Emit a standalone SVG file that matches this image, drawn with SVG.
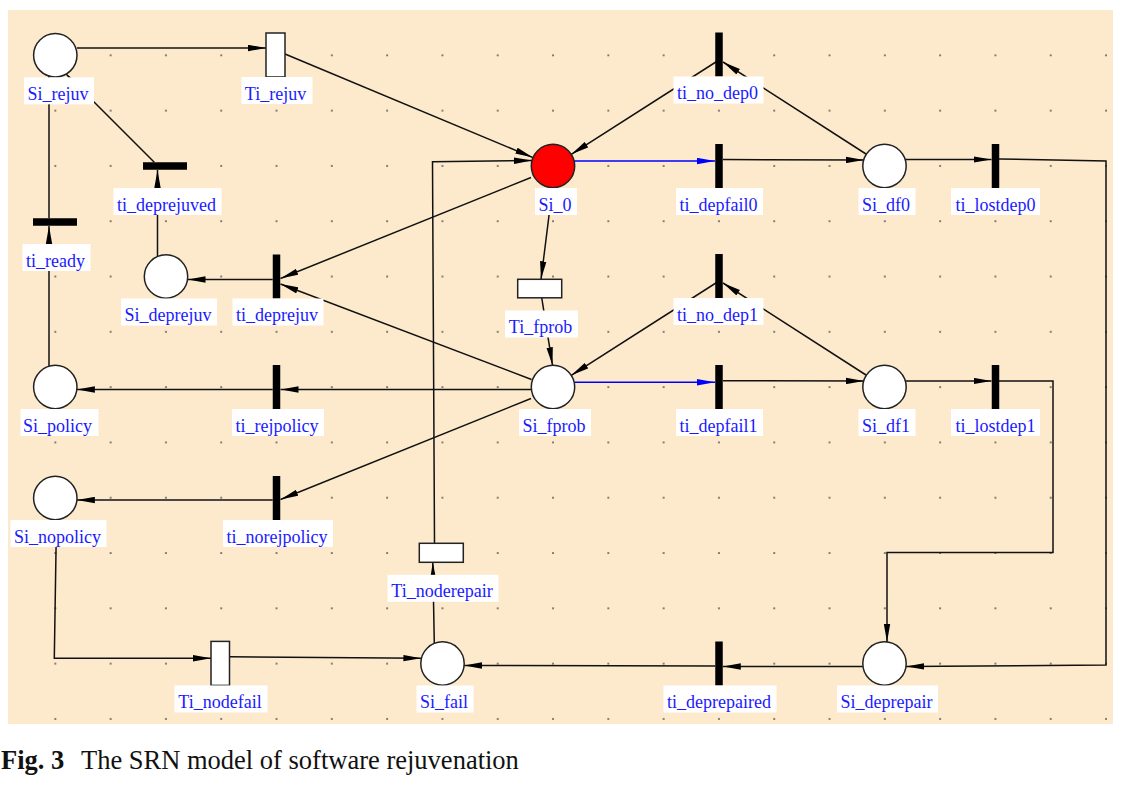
<svg xmlns="http://www.w3.org/2000/svg" width="1133" height="793" viewBox="0 0 1133 793">
<style>
.p{fill:#fff;stroke:#222;stroke-width:1.5}
.r{fill:#ff0000;stroke:#222;stroke-width:1.5}
.t{fill:#000}
.tt{fill:#fff;stroke:#222;stroke-width:1.5}
.lb{fill:#fff}
.lt{font-family:"Liberation Serif","Times New Roman",serif;font-size:18px;fill:#1a1aff;text-anchor:middle}
.c{fill:none;stroke:#111;stroke-width:1.5;marker-end:url(#a)}
.cb{fill:none;stroke:#0000ff;stroke-width:1.5;marker-end:url(#ab)}
.cn{fill:none;stroke:#111;stroke-width:1.5}
.cap{font-family:"Liberation Serif","Times New Roman",serif;font-size:26.5px;fill:#111}
</style>
<defs>
<marker id="a" markerUnits="userSpaceOnUse" markerWidth="18" markerHeight="7" refX="18" refY="3.5" orient="auto">
<path d="M0,0.3 L18,3.5 L0,6.7 Z" fill="#000"/>
</marker>
<marker id="ab" markerUnits="userSpaceOnUse" markerWidth="18" markerHeight="7" refX="18" refY="3.5" orient="auto">
<path d="M0,0.3 L18,3.5 L0,6.7 Z" fill="#0000ff"/>
</marker>
<pattern id="dots" patternUnits="userSpaceOnUse" x="27.65" y="27.65" width="55.3" height="55.3">
<rect x="26.9" y="26.9" width="1.6" height="1.6" fill="#444"/>
</pattern>
</defs>
<rect x="0" y="0" width="1133" height="793" fill="#fff"/>
<rect x="8" y="10" width="1105" height="714" fill="#fdeacd"/>
<rect x="8" y="10" width="1105" height="714" fill="url(#dots)"/>

<g id="connectors">
<path class="c" d="M77,48 L266,48"/>
<path class="c" d="M285,54 L533,157.6"/>
<path class="c" d="M719,60 L571.3,154.3"/>
<path class="c" d="M866,154 L723,62"/>
<path class="cb" d="M574,161 L715,161"/>
<path class="c" d="M723,159.5 L864,160"/>
<path class="c" d="M905.5,159.5 L991.5,159.5"/>
<path class="c" d="M999,159 L1106,161 L1106,665 L906,666.5"/>
<path class="c" d="M552.5,187.7 L541,279.3"/>
<path class="c" d="M541.7,297.7 L552.5,365.3"/>
<path class="c" d="M719,281 L571.3,375.3"/>
<path class="c" d="M866,375 L723,283"/>
<path class="cb" d="M574.5,382.3 L715,382.3"/>
<path class="c" d="M723,380.7 L864,381"/>
<path class="c" d="M905.5,381 L991.5,381"/>
<path class="c" d="M999,381 L1053,381 L1053,552.5 L887,552.5 L887,642"/>
<path class="c" d="M531.5,379.5 L280.5,284"/>
<path class="c" d="M531,177.5 L280.5,278.5"/>
<path class="c" d="M272.7,279.5 L187.5,279.5"/>
<path class="c" d="M157.5,256.5 L157.5,170"/>
<path class="c" d="M154.3,162.3 L66.3,74.3"/>
<path class="c" d="M49,366.2 L49,226"/>
<path class="c" d="M49,218.2 L49,76.1"/>
<path class="c" d="M531.5,389.5 L280.5,389.5"/>
<path class="c" d="M272.7,389.5 L76.9,389.5"/>
<path class="c" d="M531,398.5 L280.5,499.5"/>
<path class="c" d="M272.7,500 L76.9,500"/>
<path class="c" d="M56.5,519.7 L54.3,658.3 L211,658.3"/>
<path class="c" d="M229.3,656.8 L421.4,658.3"/>
<path class="c" d="M434.3,643.4 L432.8,562.3"/>
<path class="c" d="M434.5,543.3 L432.5,161.7 L532,160.5"/>
<path class="c" d="M862.8,666.5 L722.8,666.5"/>
<path class="c" d="M715.2,666 L464.1,665.5"/>
</g>

<g id="Si_rejuv"><circle class="p" cx="55.3" cy="55.3" r="21.7"/><rect class="lb" x="24" y="77.3" width="70" height="27"/><text class="lt" x="58" y="99.8">Si_rejuv</text></g>
<g id="Ti_rejuv"><rect class="tt" x="266" y="33" width="19" height="44"/><rect class="lb" x="241.5" y="77" width="71" height="27"/><text class="lt" x="275.5" y="99.5">Ti_rejuv</text></g>
<g id="ti_deprejuved"><rect class="t" x="143" y="162.25" width="44" height="7.5"/><rect class="lb" x="113.5" y="188" width="108" height="27"/><text class="lt" x="166.5" y="210.5">ti_deprejuved</text></g>
<g id="ti_ready"><rect class="t" x="33" y="218.25" width="44" height="7.5"/><rect class="lb" x="22.5" y="244" width="68" height="27"/><text class="lt" x="55.5" y="266.5">ti_ready</text></g>
<g id="Si_deprejuv"><circle class="p" cx="166" cy="276.5" r="21.7"/><rect class="lb" x="121" y="298.5" width="96" height="27"/><text class="lt" x="168" y="321">Si_deprejuv</text></g>
<g id="ti_deprejuv"><rect class="t" x="272.75" y="254.5" width="7.5" height="44"/><rect class="lb" x="232.5" y="298.5" width="91" height="27"/><text class="lt" x="277" y="321">ti_deprejuv</text></g>
<g id="Si_policy"><circle class="p" cx="55.3" cy="387" r="21.7"/><rect class="lb" x="20.5" y="409" width="78" height="27"/><text class="lt" x="57.5" y="431.5">Si_policy</text></g>
<g id="ti_rejpolicy"><rect class="t" x="272.75" y="365" width="7.5" height="44"/><rect class="lb" x="232" y="409" width="92" height="27"/><text class="lt" x="277" y="431.5">ti_rejpolicy</text></g>
<g id="Si_nopolicy"><circle class="p" cx="55.3" cy="498" r="21.7"/><rect class="lb" x="10.5" y="520" width="96" height="27"/><text class="lt" x="57.5" y="542.5">Si_nopolicy</text></g>
<g id="ti_norejpolicy"><rect class="t" x="272.75" y="476" width="7.5" height="44"/><rect class="lb" x="223" y="520" width="110" height="27"/><text class="lt" x="277" y="542.5">ti_norejpolicy</text></g>
<g id="Ti_nodefail"><rect class="tt" x="211" y="641.4" width="18.5" height="44"/><rect class="lb" x="174.5" y="685.4" width="93" height="27"/><text class="lt" x="220" y="707.9">Ti_nodefail</text></g>
<g id="Si_fail"><circle class="p" cx="442.5" cy="663.5" r="21.7"/><rect class="lb" x="416.5" y="685.5" width="57" height="27"/><text class="lt" x="444" y="708">Si_fail</text></g>
<g id="Ti_noderepair"><rect class="tt" x="419.3" y="543.3" width="44" height="19"/><rect class="lb" x="387.5" y="574.8" width="111" height="27"/><text class="lt" x="442" y="597.3">Ti_noderepair</text></g>
<g id="ti_deprepaired"><rect class="t" x="715.25" y="641.5" width="7.5" height="44"/><rect class="lb" x="663.5" y="685.5" width="113" height="27"/><text class="lt" x="719" y="708">ti_deprepaired</text></g>
<g id="Si_deprepair"><circle class="p" cx="884.5" cy="663.5" r="21.7"/><rect class="lb" x="837" y="685.5" width="101" height="27"/><text class="lt" x="886.5" y="708">Si_deprepair</text></g>
<g id="Si_0"><circle class="r" cx="553" cy="166" r="21.7"/><rect class="lb" x="535" y="188" width="42" height="27"/><text class="lt" x="555" y="210.5">Si_0</text></g>
<g id="Ti_fprob"><rect class="tt" x="517.7" y="279.3" width="44" height="18.5"/><rect class="lb" x="505" y="310.5" width="73" height="27"/><text class="lt" x="540.5" y="333">Ti_fprob</text></g>
<g id="Si_fprob"><circle class="p" cx="553" cy="387" r="21.7"/><rect class="lb" x="519" y="409" width="72" height="27"/><text class="lt" x="554" y="431.5">Si_fprob</text></g>
<g id="ti_no_dep0"><rect class="t" x="715.25" y="32.5" width="7.5" height="44"/><rect class="lb" x="673.5" y="76.5" width="90" height="27"/><text class="lt" x="717.5" y="99">ti_no_dep0</text></g>
<g id="ti_depfail0"><rect class="t" x="715.25" y="144" width="7.5" height="44"/><rect class="lb" x="676" y="188" width="87" height="27"/><text class="lt" x="718.5" y="210.5">ti_depfail0</text></g>
<g id="Si_df0"><circle class="p" cx="884.5" cy="166" r="21.7"/><rect class="lb" x="858.5" y="188" width="57" height="27"/><text class="lt" x="886" y="210.5">Si_df0</text></g>
<g id="ti_lostdep0"><rect class="t" x="991.75" y="144" width="7.5" height="44"/><rect class="lb" x="951" y="188" width="89" height="27"/><text class="lt" x="995.5" y="210.5">ti_lostdep0</text></g>
<g id="ti_no_dep1"><rect class="t" x="715.25" y="254" width="7.5" height="44"/><rect class="lb" x="673.5" y="298" width="90" height="27"/><text class="lt" x="717.5" y="320.5">ti_no_dep1</text></g>
<g id="ti_depfail1"><rect class="t" x="715.25" y="365" width="7.5" height="44"/><rect class="lb" x="676" y="409" width="87" height="27"/><text class="lt" x="718.5" y="431.5">ti_depfail1</text></g>
<g id="Si_df1"><circle class="p" cx="884.5" cy="387" r="21.7"/><rect class="lb" x="858.5" y="409" width="57" height="27"/><text class="lt" x="886" y="431.5">Si_df1</text></g>
<g id="ti_lostdep1"><rect class="t" x="991.75" y="365" width="7.5" height="44"/><rect class="lb" x="951" y="409" width="89" height="27"/><text class="lt" x="995.5" y="431.5">ti_lostdep1</text></g>

<text class="cap" x="1" y="769"><tspan font-weight="bold">Fig. 3</tspan><tspan x="81">The SRN model of software rejuvenation</tspan></text>
</svg>
